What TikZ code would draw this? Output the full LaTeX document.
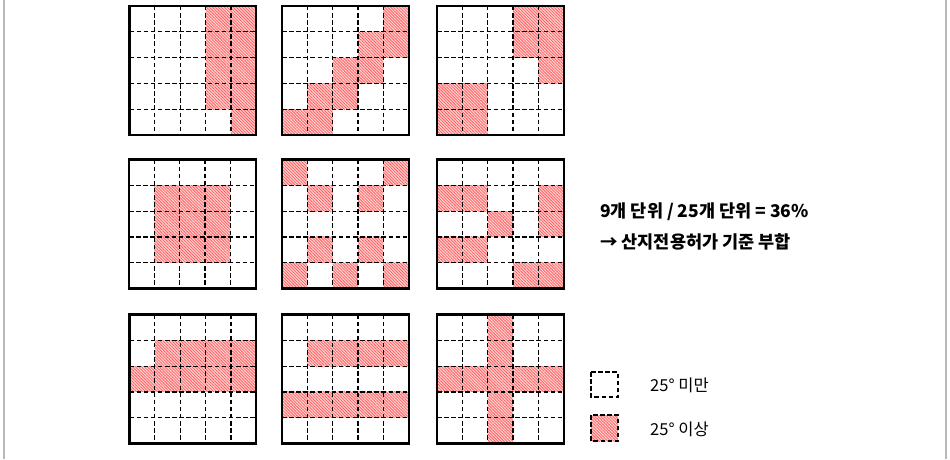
\documentclass[tikz,border=0pt]{standalone}
\usepackage{fontspec}
\setmainfont{Noto Sans CJK KR}
\usetikzlibrary{patterns.meta}
\def\cw{25.35}
\def\ch{25.8}
\tikzset{
  hatch/.style={fill=red!18, postaction={pattern={Lines[angle=-45,distance=2.1pt,line width=0.8pt]}, pattern color=red!62}},
  inner/.style={draw=black, line width=1.2pt, dash pattern=on 4.5pt off 2.6pt},
  outer/.style={draw=black, line width=2.1pt},
  frameline/.style={draw=gray!55, line width=1.4pt},
  boldtxt/.style={anchor=west, inner sep=0pt, font=\fontsize{17.5}{20}\selectfont\bfseries},
  legtxt/.style={anchor=west, inner sep=0pt, font=\fontsize{16.5}{19}\selectfont},
}
\newcommand\slopegrid[3]{%
  \begin{scope}[shift={(#1,#2)}]
    \foreach \r/\c in {#3} { \path[hatch] (\c*\cw,\r*\ch) rectangle ++(\cw,\ch); }
    \foreach \i in {1,...,4} {
      \draw[inner] (\i*\cw,0) -- (\i*\cw,5*\ch);
      \draw[inner] (0,\i*\ch) -- (5*\cw,\i*\ch);
    }
    \draw[outer] (0,0) rectangle (5*\cw,5*\ch);
  \end{scope}}
\begin{document}
\begin{tikzpicture}[x=1pt,y=-1pt]
\useasboundingbox[fill=white] (0,0) rectangle (950,460);
\draw[frameline] (4,0) -- (4,459);
\draw[frameline] (946,0) -- (946,459);
% row 1
\slopegrid{129.5}{6}{0/3,0/4,1/3,1/4,2/3,2/4,3/3,3/4,4/4}
\slopegrid{282}{6}{0/4,1/3,1/4,2/2,2/3,3/1,3/2,4/0,4/1}
\slopegrid{437}{6}{0/3,0/4,1/3,1/4,2/4,3/0,3/1,4/0,4/1}
% row 2
\slopegrid{129}{159.5}{1/1,1/2,1/3,2/1,2/2,2/3,3/1,3/2,3/3}
\slopegrid{282}{159.5}{0/0,0/4,1/1,1/3,3/1,3/3,4/0,4/2,4/4}
\slopegrid{437}{159.5}{1/0,1/1,1/4,2/2,2/4,3/0,3/1,4/3,4/4}
% row 3
\slopegrid{129.5}{314.5}{1/1,1/2,1/3,1/4,2/0,2/1,2/2,2/3,2/4}
\slopegrid{282}{314.5}{1/1,1/2,1/3,1/4,3/0,3/1,3/2,3/3,3/4}
\slopegrid{437}{314.5}{0/2,1/2,2/0,2/1,2/2,2/3,2/4,3/2,4/2}
% text
\node[boldtxt] (ratio) at (600,212) {9개 단위 / 25개 단위 = 36\%};
\node[boldtxt] (result) at (600,242) {→ 산지전용허가 기준 부합};
% legend
\draw[inner] (591,372) rectangle (618,397);
\path[hatch] (591,415) rectangle (618,441);
\draw[inner] (591,415) rectangle (618,441);
\node[legtxt] (lowlbl) at (650,385) {25° 미만};
\node[legtxt] (highlbl) at (650,429) {25° 이상};
\end{tikzpicture}
\end{document}
